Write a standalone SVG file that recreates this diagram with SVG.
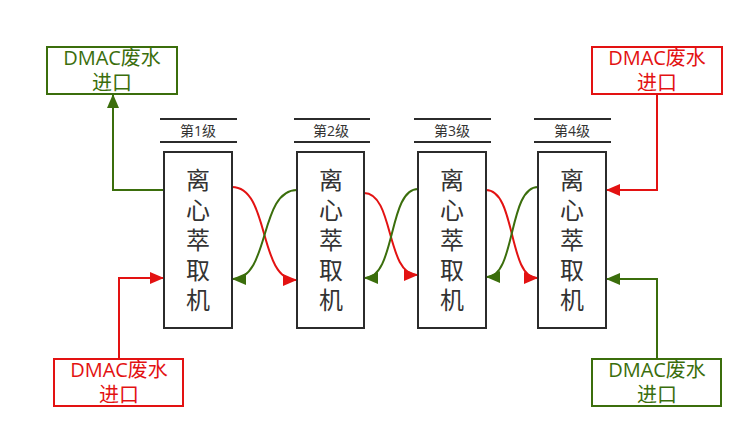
<svg xmlns="http://www.w3.org/2000/svg" width="753" height="438" viewBox="0 0 753 438">
<style>
text{font-family:"Open Sans","Noto Sans CJK SC",sans-serif;text-anchor:middle}
.box{fill:#fff;stroke:#2b2b2b;stroke-width:2}
.big{font-size:24px;fill:#333;font-family:"Noto Sans CJK SC",sans-serif}
.hdr{font-size:14px;fill:#333}
.hl{stroke:#2b2b2b;stroke-width:2}
.in{font-size:20px}
.g{stroke:#3b6e0c;fill:none;stroke-width:2}
.r{stroke:#e31212;fill:none;stroke-width:2}
.gt{fill:#3b6e0c}
.rt{fill:#e31212}
</style>
<defs>
<marker id="ag" markerUnits="userSpaceOnUse" markerWidth="14" markerHeight="12" refX="13" refY="6" orient="auto"><path d="M0,0 L14,6 L0,12 Z" fill="#3b6e0c"/></marker>
<marker id="ar" markerUnits="userSpaceOnUse" markerWidth="14" markerHeight="12" refX="13" refY="6" orient="auto"><path d="M0,0 L14,6 L0,12 Z" fill="#e31212"/></marker>
</defs>
<rect width="753" height="438" fill="#fff"/>
<g id="connectors">
<path class="g" d="M164,190 H113 V95" marker-end="url(#ag)"/>
<path class="r" d="M119,359 V278 H163" marker-end="url(#ar)"/>
<path class="r" d="M657,94 V190 H607" marker-end="url(#ar)"/>
<path class="g" d="M657,359 V279 H607" marker-end="url(#ag)"/>
<path class="r" d="M232,187 C270,187 258,280 296,280" marker-end="url(#ar)"/>
<path class="g" d="M297,190 C259,190 270,279 233,279" marker-end="url(#ag)"/>
<path class="r" d="M364,193 C394,193 386,275 417,275" marker-end="url(#ar)"/>
<path class="g" d="M418,189 C388,189 396,278 365,278" marker-end="url(#ag)"/>
<path class="r" d="M486,190 C516,190 508,278 537,278" marker-end="url(#ar)"/>
<path class="g" d="M538,187 C508,187 516,277 487,277" marker-end="url(#ag)"/>
</g>
<g id="in-top-left">
<rect x="47" y="47" width="130" height="47" fill="#fff" stroke="#3b6e0c" stroke-width="2"/>
<text class="in gt" x="112" y="65">DMAC废水</text>
<text class="in gt" x="112" y="90">进口</text>
</g>
<g id="in-top-right">
<rect x="592" y="47" width="130" height="47" fill="#fff" stroke="#e31212" stroke-width="2"/>
<text class="in rt" x="657" y="65">DMAC废水</text>
<text class="in rt" x="657" y="90">进口</text>
</g>
<g id="in-bottom-left">
<rect x="54" y="359" width="129" height="47" fill="#fff" stroke="#e31212" stroke-width="2"/>
<text class="in rt" x="119" y="377">DMAC废水</text>
<text class="in rt" x="119" y="402">进口</text>
</g>
<g id="in-bottom-right">
<rect x="592" y="359" width="129" height="47" fill="#fff" stroke="#3b6e0c" stroke-width="2"/>
<text class="in gt" x="657" y="377">DMAC废水</text>
<text class="in gt" x="657" y="402">进口</text>
</g>
<g id="stage1">
<line class="hl" x1="160" y1="119" x2="237" y2="119"/><line class="hl" x1="160" y1="142" x2="237" y2="142"/>
<text class="hdr" x="198" y="136">第1级</text>
<rect class="box" x="164" y="152" width="68" height="176"/>
<text class="big" x="198" y="189"><tspan x="198">离</tspan><tspan x="198" dy="30">心</tspan><tspan x="198" dy="30">萃</tspan><tspan x="198" dy="30">取</tspan><tspan x="198" dy="30">机</tspan></text>
</g>
<g id="stage2">
<line class="hl" x1="294" y1="119" x2="370" y2="119"/><line class="hl" x1="294" y1="142" x2="370" y2="142"/>
<text class="hdr" x="331" y="136">第2级</text>
<rect class="box" x="297" y="152" width="67" height="176"/>
<text class="big" x="331" y="189"><tspan x="331">离</tspan><tspan x="331" dy="30">心</tspan><tspan x="331" dy="30">萃</tspan><tspan x="331" dy="30">取</tspan><tspan x="331" dy="30">机</tspan></text>
</g>
<g id="stage3">
<line class="hl" x1="414" y1="119" x2="491" y2="119"/><line class="hl" x1="414" y1="142" x2="491" y2="142"/>
<text class="hdr" x="452" y="136">第3级</text>
<rect class="box" x="418" y="152" width="68" height="176"/>
<text class="big" x="452" y="189"><tspan x="452">离</tspan><tspan x="452" dy="30">心</tspan><tspan x="452" dy="30">萃</tspan><tspan x="452" dy="30">取</tspan><tspan x="452" dy="30">机</tspan></text>
</g>
<g id="stage4">
<line class="hl" x1="534" y1="119" x2="611" y2="119"/><line class="hl" x1="534" y1="142" x2="611" y2="142"/>
<text class="hdr" x="572" y="136">第4级</text>
<rect class="box" x="538" y="152" width="68" height="176"/>
<text class="big" x="572" y="189"><tspan x="572">离</tspan><tspan x="572" dy="30">心</tspan><tspan x="572" dy="30">萃</tspan><tspan x="572" dy="30">取</tspan><tspan x="572" dy="30">机</tspan></text>
</g>
</svg>
